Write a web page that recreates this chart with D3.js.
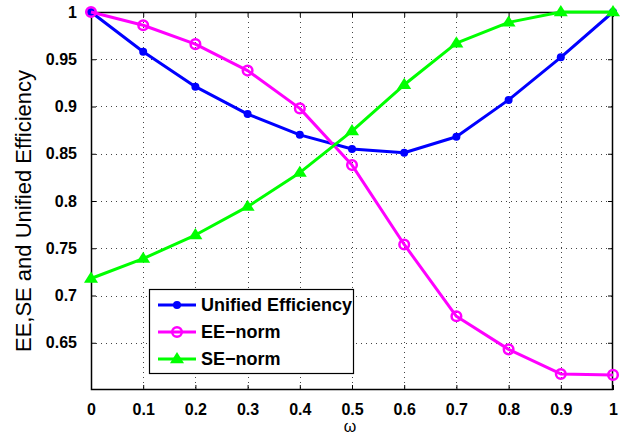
<!DOCTYPE html>
<html>
<head>
<meta charset="utf-8">
<script src="https://cdn.jsdelivr.net/npm/d3@7"></script>
<style>
  html, body { margin: 0; padding: 0; background: #fff; }
  svg { display: block; }
</style>
</head>
<body>
<svg id="chart" width="629" height="438"></svg>
<script>
const omega = [0, 0.1, 0.2, 0.3, 0.4, 0.5, 0.6, 0.7, 0.8, 0.9, 1.0];
const unifiedEfficiency = [1.0, 0.958, 0.921, 0.892, 0.870, 0.855, 0.851, 0.868, 0.907, 0.952, 1.0];
const eeNorm = [1.0, 0.986, 0.966, 0.938, 0.898, 0.838, 0.754, 0.678, 0.643, 0.617, 0.616];
const seNorm = [0.718, 0.739, 0.764, 0.794, 0.830, 0.874, 0.923, 0.967, 0.989, 1.0, 1.0];
const xTicks = [0, 0.1, 0.2, 0.3, 0.4, 0.5, 0.6, 0.7, 0.8, 0.9, 1];
const xTickLabels = ["0", "0.1", "0.2", "0.3", "0.4", "0.5", "0.6", "0.7", "0.8", "0.9", "1"];
const yTicks = [0.65, 0.7, 0.75, 0.8, 0.85, 0.9, 0.95, 1];
const yTickLabels = ["0.65", "0.7", "0.75", "0.8", "0.85", "0.9", "0.95", "1"];
const seriesNames = ["Unified Efficiency", "EE\u2212norm", "SE\u2212norm"];
const seriesColors = ["#0000ff", "#ff00ff", "#00ff00"];
const seriesMarkers = ["dot", "ring", "triangle"];
const xLabel = "\u03c9";
const yLabel = "EE,SE and Unified Efficiency";

const svg = d3.select("#chart");
const L = 91, R = 613, T = 12, B = 390;
const x = d3.scaleLinear().domain([0, 1]).range([L, R]);
const y = d3.scaleLinear().domain([0.6, 1]).range([B, T]);
const FONT = "'Liberation Sans', Arial, Helvetica, sans-serif";

svg.append("rect").attr("x", 0).attr("y", 0).attr("width", 629).attr("height", 438).attr("fill", "#fff");
svg.append("rect").attr("x", L).attr("y", T).attr("width", R - L).attr("height", B - T).attr("fill", "#fff");

// grid
const grid = svg.append("g").attr("stroke", "#444").attr("stroke-width", 1).attr("stroke-dasharray", "1,4");
grid.selectAll("line.gx").data(xTicks.slice(1, -1)).join("line")
  .attr("x1", d => Math.round(x(d)) + 0.5).attr("x2", d => Math.round(x(d)) + 0.5)
  .attr("y1", T).attr("y2", B);
grid.selectAll("line.gy").data(yTicks.slice(0, -1)).join("line")
  .attr("y1", d => Math.round(y(d)) + 0.5).attr("y2", d => Math.round(y(d)) + 0.5)
  .attr("x1", L).attr("x2", R);

// axes (bottom/left with labels, inward ticks)
const xAxis = d3.axisBottom(x).tickValues(xTicks).tickFormat((d, i) => xTickLabels[i]).tickSizeInner(-5).tickSizeOuter(0).tickPadding(14);
const yAxis = d3.axisLeft(y).tickValues(yTicks).tickFormat((d, i) => yTickLabels[i]).tickSizeInner(-5).tickSizeOuter(0).tickPadding(14);
const xTop = d3.axisTop(x).tickValues(xTicks).tickFormat("").tickSizeInner(-5).tickSizeOuter(0);
const yRight = d3.axisRight(y).tickValues(yTicks).tickFormat("").tickSizeInner(-5).tickSizeOuter(0);

function styleAxis(g) {
  g.select(".domain").remove();
  g.selectAll("line").attr("stroke", "#000").attr("stroke-width", 1);
  g.selectAll("text").attr("fill", "#000").style("font-family", FONT).style("font-weight", "bold").style("font-size", "16px");
}
svg.append("g").attr("transform", `translate(0,${B})`).call(xAxis).call(styleAxis);
svg.append("g").attr("transform", `translate(${L},0)`).call(yAxis).call(styleAxis);
svg.append("g").attr("transform", `translate(0,${T})`).call(xTop).call(styleAxis);
svg.append("g").attr("transform", `translate(${R},0)`).call(yRight).call(styleAxis);

// box
svg.append("rect").attr("x", L + 0.5).attr("y", T + 0.5).attr("width", R - L - 1).attr("height", B - T - 1)
  .attr("fill", "none").attr("stroke", "#000").attr("stroke-width", 1.5);

// series
const allSeries = [unifiedEfficiency, eeNorm, seNorm];
const line = d3.line().x((d, i) => x(omega[i])).y(d => y(d));

function drawMarker(g, type, color, cx, cy) {
  if (type === "dot") {
    g.append("circle").attr("cx", cx).attr("cy", cy).attr("r", 4).attr("fill", color);
  } else if (type === "ring") {
    g.append("circle").attr("cx", cx).attr("cy", cy).attr("r", 4.8).attr("fill", "none").attr("stroke", color).attr("stroke-width", 2.5);
  } else {
    const s = 7;
    g.append("path").attr("d", `M${cx},${cy - s} L${cx + s},${cy + s * 0.6} L${cx - s},${cy + s * 0.6} Z`).attr("fill", color);
  }
}

allSeries.forEach((vals, k) => {
  const g = svg.append("g");
  g.append("path").datum(vals).attr("d", line).attr("fill", "none")
    .attr("stroke", seriesColors[k]).attr("stroke-width", 3).attr("stroke-linejoin", "round");
  vals.forEach((v, i) => drawMarker(g, seriesMarkers[k], seriesColors[k], x(omega[i]), y(v)));
});

// legend
const lg = svg.append("g");
lg.append("rect").attr("x", 149.5).attr("y", 289.5).attr("width", 204).attr("height", 84)
  .attr("fill", "#fff").attr("stroke", "#000").attr("stroke-width", 1.2);
seriesNames.forEach((name, k) => {
  const cy = 305 + k * 27;
  lg.append("line").attr("x1", 158).attr("x2", 196).attr("y1", cy).attr("y2", cy)
    .attr("stroke", seriesColors[k]).attr("stroke-width", 3);
  drawMarker(lg, seriesMarkers[k], seriesColors[k], 177, cy);
  lg.append("text").attr("x", 201).attr("y", cy).attr("dy", "0.36em").text(name)
    .style("font-family", FONT).style("font-weight", "bold").style("font-size", "18px").attr("fill", "#000");
});

// axis labels
svg.append("text").attr("x", (L + R) / 2 - 2).attr("y", 432).attr("text-anchor", "middle").text(xLabel)
  .style("font-family", FONT).style("font-size", "16px").attr("fill", "#000");
svg.append("text").attr("transform", `translate(31,211) rotate(-90)`).attr("text-anchor", "middle").text(yLabel)
  .style("font-family", FONT).style("font-size", "22px").attr("fill", "#000");
</script>
</body>
</html>
